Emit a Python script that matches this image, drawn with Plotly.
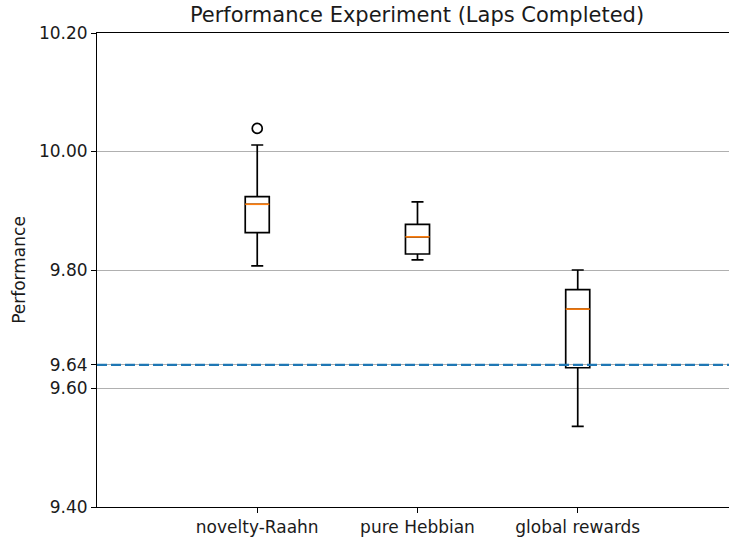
import plotly.graph_objects as go

categories = ["novelty-Raahn", "pure Hebbian", "global rewards"]
positions = [1, 2, 3]
q1 = [9.863, 9.827, 9.635]
medians = [9.911, 9.856, 9.734]
q3 = [9.924, 9.877, 9.767]
lower_whisker = [9.807, 9.817, 9.536]
upper_whisker = [10.011, 9.915, 9.800]
outlier_cat = [1]
outlier_val = [10.039]
baseline = 9.64
ytick_vals = [9.40, 9.60, 9.64, 9.80, 10.00, 10.20]

BOX_W = 0.15
FONT = "DejaVu Sans"
LW = 1.7
TXT = "#1a1a1a"

fig = go.Figure()
for i, p in enumerate(positions):
    fig.add_trace(go.Box(
        x=[p], q1=[q1[i]], median=[medians[i]], q3=[q3[i]],
        lowerfence=[lower_whisker[i]], upperfence=[upper_whisker[i]],
        width=BOX_W, whiskerwidth=0.5, boxpoints=False,
        line=dict(color="black", width=LW), fillcolor="rgba(0,0,0,0)",
        showlegend=False, hoverinfo="skip",
    ))
    fig.add_trace(go.Scatter(
        x=[p - BOX_W / 2, p + BOX_W / 2], y=[medians[i], medians[i]],
        mode="lines", line=dict(color="#ff7f0e", width=LW),
        showlegend=False, hoverinfo="skip",
    ))

fig.add_trace(go.Scatter(
    x=outlier_cat, y=outlier_val, mode="markers",
    marker=dict(symbol="circle-open", size=10, color="black", line=dict(width=LW)),
    showlegend=False, hoverinfo="skip",
))

fig.add_shape(type="line", xref="paper", x0=0, x1=1, yref="y", y0=baseline, y1=baseline,
              line=dict(color="#1f77b4", width=2.2, dash="10px,4px"), layer="above")

fig.update_layout(
    width=729, height=545,
    margin=dict(l=97, r=0, t=33, b=38),
    paper_bgcolor="white", plot_bgcolor="white",
    font=dict(family=FONT, size=17, color=TXT),
    title=dict(text="Performance Experiment (Laps Completed)", x=417 / 729, xref="container",
               xanchor="center", y=1 - 15 / 545, yref="container", yanchor="middle",
               font=dict(family=FONT, size=21, color=TXT)),
    xaxis=dict(range=[0, 3.944], tickvals=positions, ticktext=categories,
               showline=True, linecolor="black", linewidth=1.1, mirror=True,
               ticks="outside", ticklen=5, tickcolor="black", showgrid=False, zeroline=False,
               tickfont=dict(size=17, color=TXT)),
    yaxis=dict(range=[9.40, 10.20], tickvals=ytick_vals,
               ticktext=[f"{v:.2f}" for v in ytick_vals],
               showline=True, linecolor="black", linewidth=1.1,
               ticks="outside", ticklen=5, tickcolor="black",
               showgrid=True, gridcolor="#b0b0b0", gridwidth=1.0, zeroline=False,
               title=dict(text="Performance", standoff=8, font=dict(size=17, color=TXT)),
               tickfont=dict(size=17, color=TXT)),
)

fig.write_html("out.html", config={"displayModeBar": False},
               post_script="document.body.style.margin='0';")
